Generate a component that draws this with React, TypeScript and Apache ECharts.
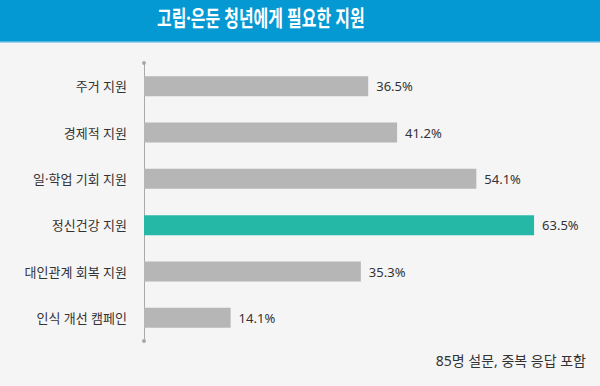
import React, { useEffect, useRef } from "react";
import * as echarts from "echarts";

const categories = ["주거 지원", "경제적 지원", "일·학업 기회 지원", "정신건강 지원", "대인관계 회복 지원", "인식 개선 캠페인"];
const values = [36.5, 41.2, 54.1, 63.5, 35.3, 14.1];
const highlight = "정신건강 지원";
const titleText = "고립·은둔 청년에게 필요한 지원";
const noteText = "85명 설문, 중복 응답 포함";

export default function App() {
  const ref = useRef<HTMLDivElement>(null);
  useEffect(() => {
    document.body.style.margin = "0";
    const chart = echarts.init(ref.current!, null, { renderer: "svg" });
    const font = "'Noto Sans', 'Noto Sans CJK KR', sans-serif";
    chart.setOption({
      animation: false,
      backgroundColor: "#f6f5f5",
      textStyle: { fontFamily: font },
      graphic: [
        { type: "rect", x: 0, y: 0, shape: { width: 600, height: 41 }, style: { fill: "#0599d3" } },
        { type: "rect", x: 0, y: 41, shape: { width: 600, height: 1.5 }, style: { fill: "#4fb6e2" } },
        {
          type: "text", x: 157, y: 6, scaleX: 0.725, scaleY: 1,
          style: { text: titleText, fill: "#ffffff", fontSize: 22, fontWeight: "bold", fontFamily: font },
        },
        {
          type: "text", right: 14, top: 353,
          style: { text: noteText, fill: "#333333", fontSize: 14, fontFamily: font },
        },
      ],
      grid: { left: 144, top: 63, height: 278, width: 430, containLabel: false },
      xAxis: { type: "value", min: 0, max: 70, show: false },
      yAxis: {
        type: "category",
        data: categories,
        inverse: true,
        axisLine: {
          show: true,
          symbol: ["circle", "circle"],
          symbolSize: [4, 4],
          lineStyle: { color: "#aaaaaa", width: 1 },
        },
        axisTick: { show: false },
        axisLabel: { color: "#333333", fontSize: 13, margin: 17, fontFamily: font },
      },
      series: [
        {
          type: "bar",
          barWidth: 20,
          data: values.map((v, i) => ({
            value: v,
            itemStyle: { color: categories[i] === highlight ? "#26b8a7" : "#b6b6b6" },
          })),
          label: {
            show: true,
            position: "right",
            distance: 8,
            color: "#333333",
            fontSize: 13,
            fontFamily: font,
            formatter: (p: any) => p.value.toFixed(1) + "%",
          },
        },
      ],
    });
    return () => chart.dispose();
  }, []);
  return <div ref={ref} style={{ width: 600, height: 386 }} />;
}
